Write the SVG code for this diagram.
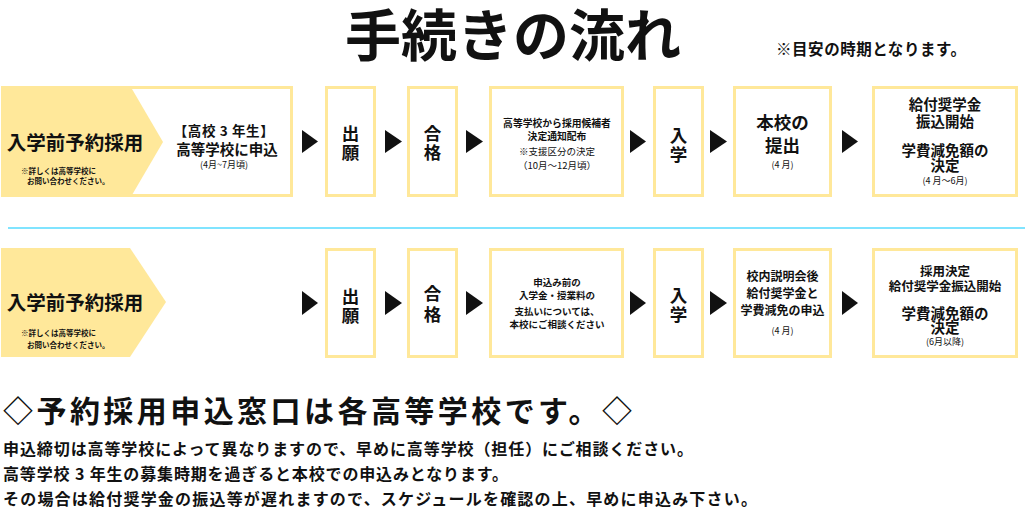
<svg xmlns="http://www.w3.org/2000/svg" width="1025" height="516" viewBox="0 0 1025 516">
<style>
text{font-family:"Noto Sans CJK JP","Noto Sans",sans-serif;fill:#111;}
.b{font-weight:bold;}
.box{fill:#fff;stroke:#FFE89A;stroke-width:3;}
.tag{fill:#FFE89A;}
.c{text-anchor:middle;}
.arr{fill:#111;}
</style>
<rect width="1025" height="516" fill="#fff"/>
<text x="345" y="56" class="b" font-size="56">手続きの流れ</text>
<text x="776" y="55" class="b" font-size="15.5" textLength="190" lengthAdjust="spacing">※目安の時期となります。</text>

<!-- Row 1 -->
<g id="row1-start">
<rect class="box" x="2.5" y="87.5" width="289" height="108"/>
<polygon class="tag" points="1,89 132,89 163,142 132,195 1,195"/>
<text x="75" y="150" class="b c" font-size="19.5">入学前予約採用</text>
<text x="21" y="174" class="b" font-size="7.5">※詳しくは高等学校に</text>
<text x="27" y="184" class="b" font-size="7.5">お問い合わせください。</text>
<text x="224" y="136" class="b c" font-size="13.5" letter-spacing="0.6">【高校 3 年生】</text>
<text x="227" y="155" class="b c" font-size="14.5">高等学校に申込</text>
<text x="224" y="168" class="c" font-size="9">(4月~7月頃)</text>
</g>
<g id="row1-shutsugan">
<rect class="box" x="326.5" y="87.5" width="48" height="108"/>
<text x="350.5" y="140" class="b c" font-size="17.5">出</text>
<text x="350.5" y="159" class="b c" font-size="17.5">願</text>
</g>
<g id="row1-goukaku">
<rect class="box" x="408.5" y="87.5" width="48" height="108"/>
<text x="432.5" y="140" class="b c" font-size="17.5">合</text>
<text x="432.5" y="159" class="b c" font-size="17.5">格</text>
</g>
<g id="row1-tsuchi">
<rect class="box" x="490.5" y="87.5" width="132" height="108"/>
<text x="557" y="127" class="b c" font-size="9.8">高等学校から採用候補者</text>
<text x="557" y="140" class="b c" font-size="9.8">決定通知配布</text>
<text x="557" y="155" class="c" font-size="9.5">※支援区分の決定</text>
<text x="557" y="169" class="c" font-size="9.5">（10月～12月頃）</text>
</g>
<g id="row1-nyugaku">
<rect class="box" x="654.5" y="87.5" width="48" height="108"/>
<text x="678.5" y="142" class="b c" font-size="17.5">入</text>
<text x="678.5" y="161" class="b c" font-size="17.5">学</text>
</g>
<g id="row1-teishutsu">
<rect class="box" x="734.5" y="87.5" width="96" height="108"/>
<text x="782.5" y="129" class="b c" font-size="17.5">本校の</text>
<text x="782.5" y="152" class="b c" font-size="17.5">提出</text>
<text x="782.5" y="168" class="c" font-size="9">(4 月)</text>
</g>
<g id="row1-furikomi">
<rect class="box" x="873.5" y="87.5" width="143" height="108"/>
<text x="945" y="110" class="b c" font-size="14.5">給付奨学金</text>
<text x="945" y="127" class="b c" font-size="14.5">振込開始</text>
<text x="945" y="156" class="b c" font-size="14.5">学費減免額の</text>
<text x="945" y="171" class="b c" font-size="14.5">決定</text>
<text x="945" y="184" class="c" font-size="9">(4 月～6月)</text>
</g>

<line x1="8" y1="228" x2="1025" y2="228" stroke="#80E4FF" stroke-width="2"/>

<!-- Row 2 -->
<g id="row2-start">
<polygon class="tag" points="1,248 130,248 166,302 130,357 1,357"/>
<text x="75" y="310" class="b c" font-size="19.5">入学前予約採用</text>
<text x="21" y="336" class="b" font-size="7.5">※詳しくは高等学校に</text>
<text x="27" y="348" class="b" font-size="7.5">お問い合わせください。</text>
</g>
<g id="row2-shutsugan">
<rect class="box" x="326.5" y="249.5" width="48" height="107"/>
<text x="350.5" y="303" class="b c" font-size="17.5">出</text>
<text x="350.5" y="322" class="b c" font-size="17.5">願</text>
</g>
<g id="row2-goukaku">
<rect class="box" x="408.5" y="249.5" width="48" height="107"/>
<text x="432.5" y="300" class="b c" font-size="17.5">合</text>
<text x="432.5" y="321" class="b c" font-size="17.5">格</text>
</g>
<g id="row2-soudan">
<rect class="box" x="490.5" y="249.5" width="132" height="107"/>
<text x="557" y="286" class="b c" font-size="9.5">申込み前の</text>
<text x="557" y="299" class="b c" font-size="9.5">入学金・授業料の</text>
<text x="557" y="315" class="b c" font-size="9.5">支払いについては、</text>
<text x="557" y="328" class="b c" font-size="9.5">本校にご相談ください</text>
</g>
<g id="row2-nyugaku">
<rect class="box" x="654.5" y="249.5" width="48" height="107"/>
<text x="678.5" y="302" class="b c" font-size="17.5">入</text>
<text x="678.5" y="321" class="b c" font-size="17.5">学</text>
</g>
<g id="row2-setsumei">
<rect class="box" x="734.5" y="249.5" width="96" height="107"/>
<text x="782.5" y="281" class="b c" font-size="12">校内説明会後</text>
<text x="782.5" y="298" class="b c" font-size="12">給付奨学金と</text>
<text x="782.5" y="315" class="b c" font-size="12">学費減免の申込</text>
<text x="782.5" y="334" class="c" font-size="9">(4 月)</text>
</g>
<g id="row2-kettei">
<rect class="box" x="873.5" y="249.5" width="143" height="107"/>
<text x="945" y="276" class="b c" font-size="12.5">採用決定</text>
<text x="945" y="291" class="b c" font-size="12.5">給付奨学金振込開始</text>
<text x="945" y="319" class="b c" font-size="14.5">学費減免額の</text>
<text x="945" y="333" class="b c" font-size="14.5">決定</text>
<text x="945" y="345" class="c" font-size="9">(6月以降)</text>
</g>

<g id="connectors">
<polygon class="arr" points="302,130 302,153 318,141.5"/>
<polygon class="arr" points="385,130 385,153 402,141.5"/>
<polygon class="arr" points="466,130 466,153 483,141.5"/>
<polygon class="arr" points="630,130 630,153 646,141.5"/>
<polygon class="arr" points="710,130 710,153 727,141.5"/>
<polygon class="arr" points="842,130 842,153 858,141.5"/>
<polygon class="arr" points="302,291 302,315 318,303"/>
<polygon class="arr" points="385,291 385,315 402,303"/>
<polygon class="arr" points="466,291 466,315 483,303"/>
<polygon class="arr" points="630,291 630,315 646,303"/>
<polygon class="arr" points="710,291 710,315 727,303"/>
<polygon class="arr" points="842,291 842,315 858,303"/>
</g>

<text x="3" y="422" class="b" font-size="30" textLength="629" lengthAdjust="spacing">◇予約採用申込窓口は各高等学校です。◇</text>
<text x="3" y="455" class="b" font-size="16" textLength="690" lengthAdjust="spacing">申込締切は高等学校によって異なりますので、早めに高等学校（担任）にご相談ください。</text>
<text x="3" y="480" class="b" font-size="16" textLength="505" lengthAdjust="spacing">高等学校 3 年生の募集時期を過ぎると本校での申込みとなります。</text>
<text x="3" y="505" class="b" font-size="16" textLength="754" lengthAdjust="spacing">その場合は給付奨学金の振込等が遅れますので、スケジュールを確認の上、早めに申込み下さい。</text>
</svg>
